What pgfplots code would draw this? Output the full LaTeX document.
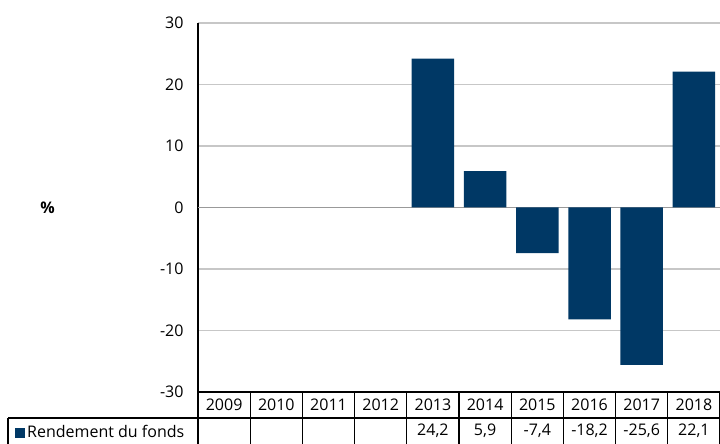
\documentclass[border=0pt]{standalone}
\usepackage{fontspec}
\setmainfont{Open Sans}
\usepackage{pgfplots}
\pgfplotsset{compat=1.18}
\definecolor{navy}{RGB}{0,56,101}
\begin{document}
\begin{tikzpicture}[x=1pt,y=1pt,font=\fontsize{16}{19}\selectfont]
\path[use as bounding box] (0,0) rectangle (720,444);
\begin{axis}[
 at={(198pt,52pt)}, anchor=south west,
 width=522pt, height=369pt, scale only axis,
 xmin=-0.5, xmax=9.5, ymin=-30, ymax=30,
 axis x line*=bottom, axis y line*=left,
 axis line style={black, line width=1.2pt},
 ytick={-30,-20,...,30},
 xtick={0,...,9},
 xticklabels={2009,2010,2011,2012,2013,2014,2015,2016,2017,2018},
 major tick length=0pt,
 ymajorgrids, grid style={color=black!22, line width=1.2pt},
 extra y ticks={0}, extra y tick labels={},
 extra y tick style={grid style={color=black!40, line width=1.2pt}},
 tick label style={font=\fontsize{16}{19}\selectfont},
 /pgf/number format/assume math mode=true,
 yticklabel style={xshift=-11pt},
 xticklabel style={anchor=center, yshift=-13pt},
 clip=false,
 ylabel={\textbf{\%}},
 ylabel style={rotate=-90, at={(axis description cs:-0.288,0.5)}, anchor=center},
]
\addplot[ybar, bar width=42.5pt, fill=navy, draw=none] coordinates {(4,24.2)(5,5.9)(6,-7.4)(7,-18.2)(8,-25.6)(9,22.1)};
\addplot[draw=none, mark=none, nodes near coords, point meta=explicit symbolic,
  nodes near coords style={anchor=center, font=\fontsize{16}{19}\selectfont}] table[meta=lab] {
x y lab
4 -36.34 24,2
5 -36.34 5,9
6 -36.34 -7,4
7 -36.34 -18,2
8 -36.34 -25,6
9 -36.34 22,1
};
\end{axis}
\draw[line width=1.2pt] (8,26) -- (720,26);
\foreach \k in {0,...,10} \draw[line width=1.2pt] ({198+52.2*\k},0) -- ({198+52.2*\k},52);
\draw[line width=1.2pt] (8,0) -- (8,26);
\fill[navy] (14.5,5.5) rectangle (24.5,15.5);
\node[anchor=west, inner sep=0pt] at (27,13) {Rendement du fonds};
\end{tikzpicture}
\end{document}
